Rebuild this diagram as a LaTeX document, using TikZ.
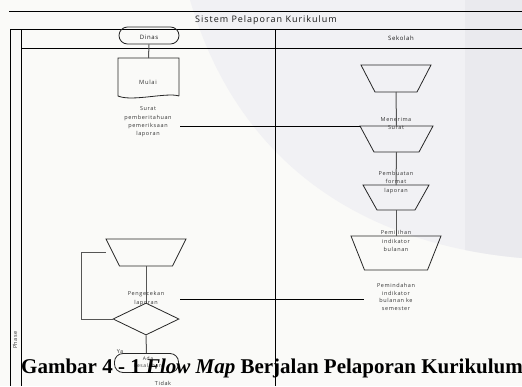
\documentclass[tikz,border=0pt]{standalone}
\usepackage{fontspec}
\setmainfont{Liberation Serif}
\newfontfamily\osans[LetterSpace=11]{Open Sans}
\usetikzlibrary{shapes.geometric}
\definecolor{bgbase}{HTML}{FAFAF8}
\definecolor{wmone}{HTML}{F1F1F4}
\definecolor{wmtwo}{HTML}{EAEAEE}
\definecolor{conncol}{HTML}{555555}
\definecolor{txtcol}{HTML}{333333}
\tikzset{
  frame/.style={draw=black, line width=0.8pt},
  outline/.style={draw=black!85, line width=0.8pt},
  conn/.style={draw=conncol, line width=1pt},
  lbl/.style={font=\osans\fontsize{5.5}{8.3}\selectfont, text=txtcol, align=center, inner sep=0pt},
  hdr/.style={font=\osans\fontsize{6}{7}\selectfont, text=black!90, inner sep=0pt},
  term/.style={draw=black!85, line width=0.8pt, rounded corners=8.5pt, inner sep=0pt},
}
\newcommand\mtrap[6]{%
  \node[minimum width=#4pt, minimum height=#6pt, inner sep=0pt, outer sep=0pt] (#1) at (#2,#3) {};
  \draw[outline] (#1.north west) -- (#1.north east) -- ([xshift={-(#4-#5)/2*1pt}]#1.south east) -- ([xshift={(#4-#5)/2*1pt}]#1.south west) -- cycle;
}
\begin{document}
\begin{tikzpicture}[x=1pt, y=-1pt]
\useasboundingbox (0,0) rectangle (522,386);
% background and watermark
\fill[bgbase] (0,0) rectangle (522,386);
\fill[wmone] (190,0) .. controls (240,170) and (370,245) .. (522,258) -- (522,0) -- cycle;
\begin{scope}
\clip (190,0) .. controls (240,170) and (370,245) .. (522,258) -- (522,0) -- cycle;
\fill[wmtwo] (465,0) rectangle (522,386);
\end{scope}
% frame
\draw[frame] (9,11) -- (522,11);
\draw[frame] (10,29) -- (522,29);
\draw[frame] (21,48) -- (522,48);
\draw[frame] (10,29) -- (10,386);
\draw[frame] (21,29) -- (21,386);
\draw[frame] (275,29) -- (275,386);
\node[font=\osans\fontsize{9}{10}\selectfont, text=black!90, inner sep=0pt] (title) at (266,20) {Sistem Pelaporan Kurikulum};
\node[hdr] (sekolah) at (401,38) {Sekolah};
\node[lbl, rotate=90] (phase) at (15,340) {Phase};
% Dinas lane
\node[term, minimum width=60pt, minimum height=17pt] (dinas) at (149,35.5) {};
\node[hdr] (dinastxt) at (149,37) {Dinas};
\node[minimum width=61pt, minimum height=38pt, inner sep=0pt, outer sep=0pt] (mulai) at (148.5,77) {};
\draw[outline] (mulai.south east) -- (mulai.north east) -- (mulai.north west) -- (mulai.south west)
  .. controls +(14,6) and +(-12,-4) .. (mulai.south east);
\node[lbl, font=\osans\fontsize{5.8}{7}\selectfont] (mulaitxt) at (148,82) {Mulai};
\draw[conn] (dinas.south) -- (mulai.north);
\node[lbl] (surat) at (148,122) {Surat\\pemberitahuan\\pemeriksaan\\laporan};
\mtrap{t5}{146}{252.5}{80}{53}{27}
\node[diamond, draw=black!85, line width=0.8pt, minimum width=66pt, minimum height=32pt, inner sep=0pt] (dec) at (146,319) {};
\node[term, minimum width=64pt, minimum height=19pt] (akhir) at (146.5,363) {};
\draw[conn] (t5.south) -- (dec.north);
\draw[conn] (dec.south) -- (akhir.north);
\draw[conn] (dec.west) -- ++(-31,0) |- (t5.west);
\node[lbl] (cek) at (146,298.5) {Pengecekan\\laporan};
\node[lbl] (ya) at (120,352) {Ya};
\node[lbl, font=\osans\fontsize{5}{7}\selectfont] (ada) at (148,362.5) {Ada\\kesalahan};
\node[lbl] (tidak) at (163,383) {Tidak};
% Sekolah lane
\mtrap{t1}{396}{78.5}{70}{42}{27}
\mtrap{t2}{396.5}{139}{73}{45}{26}
\mtrap{t3}{396}{197.5}{66}{38}{25}
\mtrap{t4}{396}{253}{90}{63}{34}
\draw[conn] (t1.south) -- (t2.north);
\draw[conn] (t2.south) -- (t3.north);
\draw[conn] (t3.south) -- (t4.north);
\node[lbl] (terima) at (396,123.5) {Menerima\\Surat};
\node[lbl] (buat) at (396,182.5) {Pembuatan\\format\\laporan};
\node[lbl] (pilih) at (396,241) {Pemilihan\\indikator\\bulanan};
\node[lbl, font=\osans\fontsize{5.5}{7.5}\selectfont] (pindah) at (396,297) {Pemindahan\\indikator\\bulanan ke\\semester};
% messages
\coordinate (m1) at (180,126);
\draw[frame] (m1) -- (t2.north west);
\coordinate (m2) at (180,299);
\coordinate (m3) at (364,299);
\draw[frame] (m2) -- (m3);
% caption
\node[anchor=base west, inner sep=0pt, font=\bfseries\fontsize{21}{24}\selectfont] (caption) at (21,373) {Gambar 4 - 1 \textit{Flow Map} Berjalan Pelaporan Kurikulum};
\end{tikzpicture}
\end{document}
